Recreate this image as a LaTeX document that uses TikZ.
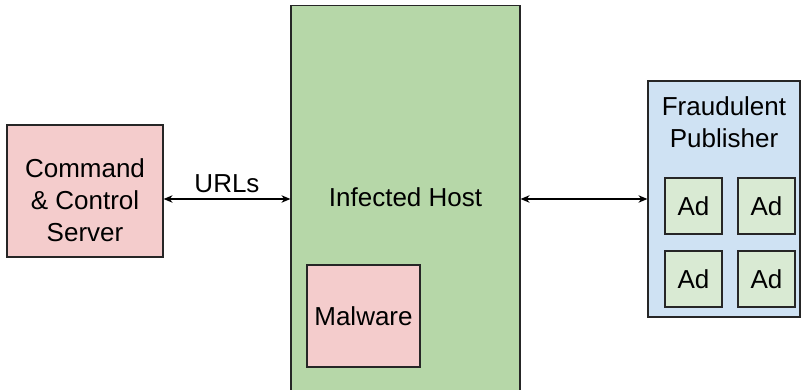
\documentclass[tikz,border=0pt]{standalone}
\usepackage{fontspec}
\setmainfont{Liberation Sans}
\usetikzlibrary{arrows.meta}
\definecolor{pinkfill}{HTML}{F4CCCC}
\definecolor{greenfill}{HTML}{B6D7A8}
\definecolor{bluefill}{HTML}{CFE2F3}
\definecolor{adfill}{HTML}{D9EAD3}
\tikzset{
  box/.style={draw=black!85, line width=1.2pt, rectangle, inner sep=0pt, align=center,
              font=\fontsize{26}{32}\selectfont},
  twoway/.style={line width=1.2pt, {Stealth[length=9pt,width=7.5pt]}-{Stealth[length=9pt,width=7.5pt]}},
  lbl/.style={font=\fontsize{26}{32}\selectfont, inner sep=0pt}
}
\begin{document}
\begin{tikzpicture}[x=1pt,y=-1pt]
\useasboundingbox (0,0) rectangle (801,390);
% command and control server
\node[box, fill=pinkfill, minimum width=156pt, minimum height=132pt] (ccs) at (85,191) {};
\node[lbl, align=center] (ccstext) at (85,200) {Command\\\& Control\\Server};
% infected host with the malware inside
\node[box, fill=greenfill, minimum width=229pt, minimum height=400pt] (host) at (405.5,205.5) {};
\node[lbl, anchor=base] (hosttext) at (405.5,207) {Infected Host};
\node[box, fill=pinkfill, minimum width=113pt, minimum height=102pt] (mal) at (363.5,316) {Malware};
% fraudulent publisher and its ads
\node[box, fill=bluefill, minimum width=152pt, minimum height=236pt] (pub) at (724,199) {};
\node[lbl, align=center] (pubtext) at (724,122) {Fraudulent\\Publisher};
\node[box, fill=adfill, minimum width=57pt, minimum height=56pt] (ad1) at (693.5,206) {Ad};
\node[box, fill=adfill, minimum width=57pt, minimum height=56pt] (ad2) at (766.5,206) {Ad};
\node[box, fill=adfill, minimum width=57pt, minimum height=56pt] (ad3) at (693.5,279) {Ad};
\node[box, fill=adfill, minimum width=57pt, minimum height=56pt] (ad4) at (766.5,279) {Ad};
% connectors
\coordinate (ylink) at (0,199);
\draw[twoway] (ccs.east |- ylink) -- (host.west |- ylink)
  node[midway, above=6pt, lbl] (urls) {URLs};
\draw[twoway] (host.east |- ylink) -- (pub.west |- ylink);
\end{tikzpicture}
\end{document}
